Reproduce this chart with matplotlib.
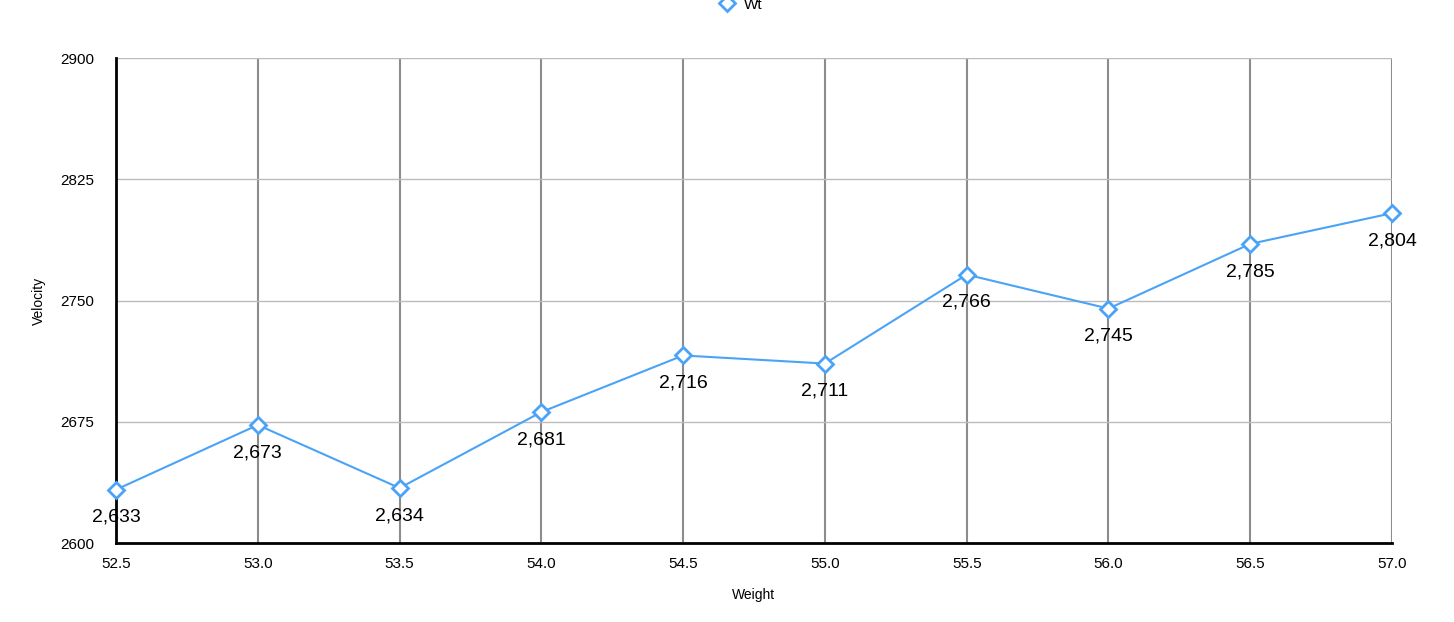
import matplotlib
matplotlib.use('Agg')
from matplotlib import pyplot as plt
from matplotlib.lines import Line2D
import numpy as np

plt.rcParams['font.family'] = ['Liberation Sans', 'DejaVu Sans']

# weight vs velocity
weight = [52.5, 53.0, 53.5, 54.0, 54.5, 55.0, 55.5, 56.0, 56.5, 57.0]
velocity = [2633, 2673, 2634, 2681, 2716, 2711, 2766, 2745, 2785, 2804]
yticks = [2600, 2675, 2750, 2825, 2900]

blue = '#4aa3f7'

fig = plt.figure(figsize=(14.54, 6.22), dpi=100)
ax = fig.add_axes([116/1454, 1-543/622, (1392-116)/1454, (543-58)/622])

ax.plot(weight, velocity, color=blue, lw=1.5, marker='D', ms=8,
        mfc='white', mec=blue, mew=2, zorder=3, clip_on=False)

for x, y in zip(weight, velocity):
    ax.annotate(f'{y:,}', (x, y), xytext=(0, -20), textcoords='offset points',
                ha='center', va='center', fontsize=14, color='black', zorder=4)

ax.set_xlim(52.5, 57.0)
ax.set_ylim(2600, 2900)
ax.set_xticks(weight)
ax.set_xticklabels([f'{w:.1f}' for w in weight])
ax.set_yticks(yticks)

ax.grid(axis='x', color='#8c8c8c', lw=1.5)
ax.grid(axis='y', color='#bcbcbc', lw=1)
ax.set_axisbelow(True)

for s in ['top', 'right']:
    ax.spines[s].set_visible(False)
ax.spines['left'].set_linewidth(2)
ax.spines['bottom'].set_linewidth(2)
ax.tick_params(length=0, labelsize=11)
ax.tick_params(axis='x', pad=10)
ax.tick_params(axis='y', pad=16)

ax.set_xlabel('Weight', fontsize=10, labelpad=12)
ax.set_ylabel('Velocity', fontsize=10, labelpad=10)

handle = Line2D([], [], ls='none', marker='D', ms=8, mfc='white', mec=blue, mew=2)
ax.legend([handle], ['Wt'], loc='center', bbox_to_anchor=(0.49, 1.11), frameon=False,
          fontsize=11, handlelength=1.0, handletextpad=0.6)

plt.savefig('out.png', dpi=100)
